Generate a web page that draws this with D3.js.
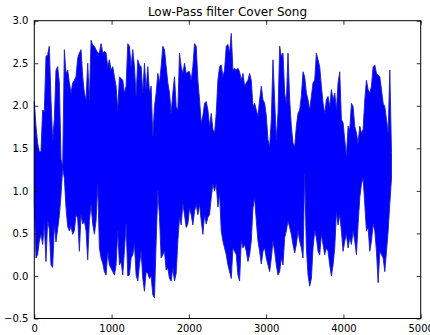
<!DOCTYPE html>
<html>
<head>
<meta charset="utf-8">
<script src="https://cdn.jsdelivr.net/npm/d3@7"></script>
<style>
  html, body { margin: 0; padding: 0; background: #fff; }
  svg { display: block; }
</style>
</head>
<body>
<svg id="chart" width="430" height="335"></svg>
<script>
// per-bin max / min of the filtered signal
const upperEnvelope = [
  2.05, 1.76, 1.56, 1.46, 1.46, 1.95, 1.93, 2.58, 2.60, 2.70,
  2.07, 1.60, 1.84, 2.42, 2.46, 2.27, 1.37, 1.29, 2.66, 2.38,
  2.42, 2.27, 2.15, 2.27, 2.30, 2.34, 2.56, 2.62, 2.66, 2.34,
  2.15, 2.07, 2.50, 2.07, 2.77, 2.71, 2.70, 2.66, 2.62, 2.62,
  2.73, 2.62, 2.64, 2.62, 2.46, 2.54, 2.42, 2.46, 2.34, 2.23,
  1.95, 2.34, 2.32, 2.30, 2.15, 2.23, 2.73, 2.70, 2.46, 2.66,
  2.46, 2.11, 2.54, 2.48, 2.46, 2.15, 2.50, 2.19, 2.46, 2.15,
  2.23, 1.64, 1.99, 2.15, 2.38, 2.27, 2.46, 2.70, 2.66, 2.46,
  2.27, 2.15, 1.91, 2.15, 2.34, 1.99, 1.95, 2.62, 2.46, 2.38,
  2.50, 2.38, 2.40, 2.40, 2.30, 2.46, 2.73, 2.70, 2.30, 2.07,
  1.80, 1.88, 2.03, 2.05, 1.95, 1.76, 1.91, 1.72, 1.68,
  1.91, 2.30, 2.46, 2.48, 2.34, 2.42, 2.70, 2.72, 2.62, 2.85,
  2.42, 2.44, 2.42, 2.44, 2.40, 2.30, 2.38, 2.23, 2.27, 2.30,
  2.38, 2.30, 1.99, 2.03, 1.95, 1.88, 2.07, 2.23, 2.07, 2.03,
  1.88, 1.60, 1.52, 1.84, 2.54, 2.07, 1.60, 1.91, 2.70, 2.58,
  2.62, 2.15, 2.03, 2.62, 2.07, 1.76, 1.56, 1.52, 1.76, 1.91,
  1.95, 2.11, 2.40, 2.34, 2.15, 2.07, 1.95, 2.11, 2.27, 2.30,
  2.62, 2.54, 2.46, 2.23, 2.03, 1.91, 2.07, 2.11, 1.99, 2.19,
  2.07, 2.15, 1.95, 2.27, 2.40, 1.84, 1.80, 1.60, 1.41, 1.76,
  1.72, 2.03, 1.99, 1.76, 1.68, 1.56, 1.76, 1.68, 1.72, 2.07,
  2.30, 2.19, 2.15, 2.23, 2.46, 2.48, 2.38, 2.36, 2.34, 2.19,
  2.03, 1.99, 1.84, 1.68, 2.42, 1.45
];

const lowerEnvelope = [
  0.85, 0.21, 0.25, 0.41, 0.49, 0.37, 0.61, 0.17, 0.65, 0.55,
  0.13, 0.10, 0.60, 0.40, 0.55, 0.71, 0.95, 1.27, 1.15, 0.80,
  0.58, 0.53, 0.58, 0.49, 0.53, 0.72, 0.68, 0.29, 0.72, 0.61,
  0.65, 0.53, 0.19, 0.65, 0.84, 0.61, 0.49, 0.65, 1.08, 0.33,
  0.21, 0.15, 0.05, 0.01, 0.29, 0.13, 0.09, 0.05, 0.01, 0.13,
  0.53, 0.13, 0.17, 0.01, 0.30, 0.61, 0.00, 0.01, 0.21, 0.25,
  0.37, 0.01, -0.06, 0.13, 0.29, -0.03, -0.18, 0.05, 0.03, -0.03,
  0.00, -0.22, -0.26, 0.40, 1.00, 0.70, 0.21, 0.25, 0.29, 0.07,
  0.09, -0.03, -0.06, 0.09, -0.06, 0.03, 0.41, 0.69, 0.60, 0.85,
  0.72, 0.57, 0.61, 0.80, 0.72, 0.60, 0.76, 0.84, 0.72, 0.84,
  0.65, 0.49, 0.72, 0.61, 0.69, 0.72, 0.92, 1.08, 1.00,
  1.08, 0.81, 0.97, 0.53, 0.41, 0.33, 0.25, 0.13, 0.05, -0.03,
  0.33, 0.29, 0.25, 0.01, -0.06, 0.41, 0.33, 0.37, 0.29, 0.17,
  0.25, 0.41, 0.80, 0.92, 0.65, 0.41, 0.29, 0.14, 0.29, 0.33,
  0.21, 0.13, 0.05, 0.21, 0.41, 0.29, 0.13, 0.01, 0.05, 0.21,
  0.13, 0.45, 0.53, 0.65, 0.57, 0.49, 0.37, 0.27, 0.37, 0.53,
  0.41, 0.33, 0.21, 1.20, 0.33, 0.01, -0.12, -0.03, 0.33, 0.53,
  0.45, 0.29, 0.25, 0.49, 0.37, 0.25, 0.33, 0.29, 0.13, 0.00,
  0.13, 0.33, 0.75, 0.60, 0.72, 0.53, 0.29, 0.41, 0.49, 0.33,
  0.45, 0.37, 0.53, 0.41, 0.25, 0.61, 0.92, 1.08, 1.15, 0.84,
  0.53, 0.57, 0.29, 0.41, 0.61, 0.53, 0.29, -0.08, 0.29, 0.25,
  0.21, 0.05, 0.29, 0.53, 0.85, 1.15
];

const lastSample = 4622;
const xTicks = [0, 1000, 2000, 3000, 4000, 5000];
const yTicks = [-0.5, 0.0, 0.5, 1.0, 1.5, 2.0, 2.5, 3.0];
const title = "Low-Pass filter Cover Song";

const svg = d3.select("#chart");
const margin = { top: 20.7, right: 9.3, bottom: 16.5, left: 34.3 };
const W = 430, H = 335;
const width = W - margin.left - margin.right;
const height = H - margin.top - margin.bottom;

const x = d3.scaleLinear().domain([0, 5000]).range([0, width]);
const y = d3.scaleLinear().domain([-0.5, 3.0]).range([height, 0]);

const g = svg.append("g").attr("transform", `translate(${margin.left},${margin.top})`);

const bins = upperEnvelope.map((hi, i) => ({
  s: i * lastSample / (upperEnvelope.length - 1),
  hi: hi,
  lo: lowerEnvelope[i]
}));

const area = d3.area()
  .x((d) => x(d.s))
  .y0((d) => y(d.lo))
  .y1((d) => y(d.hi));

g.append("path")
  .datum(bins)
  .attr("d", area)
  .attr("fill", "#0000ff")
  .attr("stroke", "#1c1cc8")
  .attr("stroke-width", 0.9)
  .attr("stroke-linejoin", "miter");

const fmt = (v) => d3.format(".1f")(v).replace("-", "\u2212");
const fontFamily = "'DejaVu Sans', sans-serif";

// axes: matplotlib classic, ticks inward on all four sides
const tickLen = 4;
const axisBottom = d3.axisBottom(x).tickValues(xTicks).tickSizeInner(-tickLen).tickSizeOuter(0).tickPadding(6).tickFormat(d3.format("d"));
const axisTop = d3.axisTop(x).tickValues(xTicks).tickSizeInner(-tickLen).tickSizeOuter(0).tickFormat("");
const axisLeft = d3.axisLeft(y).tickValues(yTicks).tickSizeInner(-tickLen).tickSizeOuter(0).tickPadding(6).tickFormat(fmt);
const axisRight = d3.axisRight(y).tickValues(yTicks).tickSizeInner(-tickLen).tickSizeOuter(0).tickFormat("");

function styleAxis(sel) {
  sel.select(".domain").remove();
  sel.selectAll("line").attr("stroke", "#000").attr("stroke-width", 0.8);
  sel.selectAll("text").attr("fill", "#000").style("font-family", fontFamily).style("font-size", "10px");
}

g.append("g").attr("transform", `translate(0,${height})`).call(axisBottom).call(styleAxis);
g.append("g").call(axisTop).call(styleAxis);
g.append("g").call(axisLeft).call(styleAxis);
g.append("g").attr("transform", `translate(${width},0)`).call(axisRight).call(styleAxis);

g.append("rect")
  .attr("x", 0).attr("y", 0)
  .attr("width", width).attr("height", height)
  .attr("fill", "none")
  .attr("stroke", "#000")
  .attr("stroke-width", 1);

svg.append("text")
  .attr("x", margin.left + width / 2)
  .attr("y", 16)
  .attr("text-anchor", "middle")
  .style("font-family", fontFamily)
  .style("font-size", "12px")
  .attr("fill", "#000")
  .text(title);
</script>
</body>
</html>
